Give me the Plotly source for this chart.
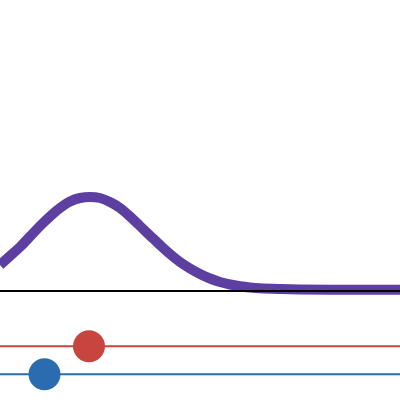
import plotly.graph_objects as go

# Density curve
curve_x = [0, 10, 20, 30, 40, 50, 60, 70, 80, 90, 100, 110, 120, 130, 140, 150, 160, 170, 180,
           190, 200, 210, 220, 230, 240, 250, 260, 280, 300, 350, 400]
curve_y = [0.26, 0.35, 0.44, 0.545, 0.65, 0.745, 0.83, 0.895, 0.93, 0.94, 0.93, 0.89, 0.83,
           0.745, 0.65, 0.555, 0.46, 0.37, 0.29, 0.225, 0.17, 0.125, 0.09, 0.065, 0.048, 0.036,
           0.028, 0.02, 0.015, 0.012, 0.012]

# Baseline and two reference rows
baseline_y = 0.0
row_names = ["red", "blue"]
row_y = [-0.553, -0.833]
row_point_x = [89, 44.5]
row_colors = ["#c8453f", "#2b6cb0"]

x_span = [0, 400]

fig = go.Figure()
fig.add_trace(go.Scatter(x=curve_x, y=curve_y, mode="lines",
                         line=dict(color="#5c3fa0", width=10, shape="spline", smoothing=1.0),
                         hoverinfo="skip"))
fig.add_trace(go.Scatter(x=x_span, y=[baseline_y, baseline_y], mode="lines",
                         line=dict(color="black", width=2), hoverinfo="skip"))
for name, y, px, c in zip(row_names, row_y, row_point_x, row_colors):
    fig.add_trace(go.Scatter(x=x_span, y=[y, y], mode="lines",
                             line=dict(color=c, width=2), hoverinfo="skip"))
    fig.add_trace(go.Scatter(x=[px], y=[y], mode="markers", name=name,
                             marker=dict(color=c, size=32, line=dict(width=0))))

fig.update_layout(width=400, height=400, margin=dict(l=0, r=0, t=0, b=0),
                  showlegend=False, plot_bgcolor="white", paper_bgcolor="white",
                  xaxis=dict(range=[0, 400], visible=False, fixedrange=True),
                  yaxis=dict(range=[-1.09, 2.91], visible=False, fixedrange=True))
fig.write_html("out.html", config=dict(displayModeBar=False),
               post_script="document.body.style.margin='0';document.body.style.padding='0';")
